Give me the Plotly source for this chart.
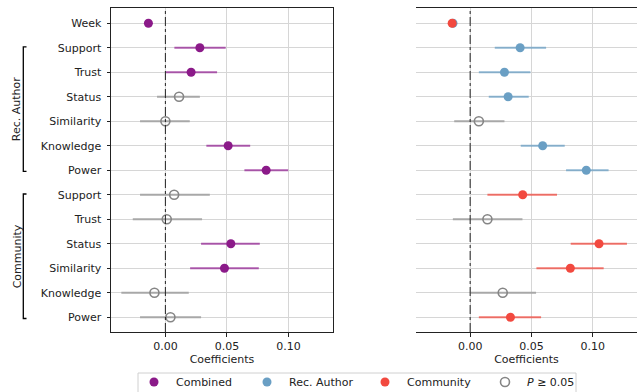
import plotly.graph_objects as go

# ---------------- data ----------------
rows = ["Week", "Support", "Trust", "Status", "Similarity", "Knowledge", "Power",
        "Support", "Trust", "Status", "Similarity", "Knowledge", "Power"]

combined_coef = [-0.0138, 0.0280, 0.0209, 0.0111, 0.0000, 0.0510, 0.0819,
                 0.0071, 0.0011, 0.0532, 0.0480, -0.0089, 0.0041]
combined_lo = [-0.0143, 0.0073, 0.0003, -0.0068, -0.0206, 0.0333, 0.0642,
               -0.0206, -0.0265, 0.0290, 0.0201, -0.0358, -0.0206]
combined_hi = [-0.0133, 0.0490, 0.0420, 0.0280, 0.0198, 0.0689, 0.0998,
               0.0361, 0.0298, 0.0767, 0.0759, 0.0190, 0.0290]
combined_sig = [True, True, True, False, False, True, True,
                False, False, True, True, False, False]

separate_coef = [-0.0147, 0.0408, 0.0280, 0.0310, 0.0071, 0.0592, 0.0948,
                 0.0429, 0.0141, 0.1052, 0.0818, 0.0266, 0.0329]
separate_lo = [-0.0152, 0.0201, 0.0071, 0.0152, -0.0130, 0.0413, 0.0783,
               0.0141, -0.0141, 0.0821, 0.0541, 0.0000, 0.0071]
separate_hi = [-0.0142, 0.0620, 0.0492, 0.0478, 0.0280, 0.0772, 0.1130,
               0.0709, 0.0427, 0.1280, 0.1090, 0.0538, 0.0579]
separate_sig = [True, True, True, True, False, True, True,
                True, False, True, True, False, True]
separate_group = ["Community", "Rec. Author", "Rec. Author", "Rec. Author", "Rec. Author",
                  "Rec. Author", "Rec. Author", "Community", "Community", "Community",
                  "Community", "Community", "Community"]
week_rec_author_coef = -0.0140

legend_names = ["Combined", "Rec. Author", "Community", "<i>P</i> ≥ 0.05"]
legend_keys = ["Combined", "Rec. Author", "Community", "ns"]
bracket_groups = [("Rec. Author", 1, 6), ("Community", 7, 12)]
x_ticks = [0.0, 0.05, 0.10]

# ---------------- style / layout ----------------
COL = {"Combined": "#8B1A89", "Rec. Author": "#6A9FC4", "Community": "#F2493F", "ns": "#858585"}
ERR = {"Combined": "rgba(150,40,150,0.75)", "Rec. Author": "rgba(106,159,196,0.75)",
       "Community": "rgba(240,74,63,0.75)", "ns": "#A8A8A8"}
FONT = "DejaVu Sans"
W, H = 642, 392
LEG_MARKER_PX = [154, 267, 385, 505]   # legend symbol centres (px)
LEG_TEXT_GAP = 20                       # symbol -> text (px)
LEG_Y = 382                             # legend row centre (px)
LEG_BOX = (138, 576, 373)               # left, right, top (px)

fig = go.Figure()


def marker_style(color, filled):
    if filled:
        return dict(size=9, color=color, symbol="circle", line=dict(width=0))
    return dict(size=9, color=color, symbol="circle-open", line=dict(width=1.6, color=color))


def add_points(xs, ys, lo, hi, color, err, filled, xa, ya="y"):
    if not xs:
        return
    fig.add_trace(go.Scatter(
        x=xs, y=ys, mode="markers", xaxis=xa, yaxis=ya, showlegend=False,
        error_x=dict(type="data", symmetric=False,
                     array=[h - x for h, x in zip(hi, xs)],
                     arrayminus=[x - l for l, x in zip(lo, xs)],
                     color=err, thickness=2, width=0),
        marker=marker_style(color, filled),
        hoverinfo="skip"))


def panel(coefs, los, his, sigs, groups, xa):
    for g in dict.fromkeys(groups):
        idx = [i for i in range(len(coefs)) if groups[i] == g and sigs[i]]
        add_points([coefs[i] for i in idx], idx, [los[i] for i in idx], [his[i] for i in idx],
                   COL[g], ERR[g], True, xa)
    idx = [i for i in range(len(coefs)) if not sigs[i]]
    add_points([coefs[i] for i in idx], idx, [los[i] for i in idx], [his[i] for i in idx],
               COL["ns"], ERR["ns"], False, xa)


# left panel: combined model
panel(combined_coef, combined_lo, combined_hi, combined_sig, ["Combined"] * len(rows), "x")
# right panel: separate model (blue week marker sits behind the red one)
add_points([week_rec_author_coef], [0], [week_rec_author_coef], [week_rec_author_coef],
           COL["Rec. Author"], ERR["Rec. Author"], True, "x2")
panel(separate_coef, separate_lo, separate_hi, separate_sig, separate_group, "x2")

# zero reference lines
for xr in ["x", "x2"]:
    fig.add_shape(type="line", xref=xr, yref="y domain", x0=0, x1=0, y0=0, y1=1,
                  line=dict(color="#222", width=1, dash="dashdot"), layer="above")

# group brackets
bx, bt = 23.3 / W, 3.2 / W
for label, r0, r1 in bracket_groups:
    y0, y1 = r0 - 0.03, r1 + 0.05
    fig.add_shape(type="path", xref="paper", yref="y",
                  path=f"M {bx+bt} {y0} L {bx} {y0} L {bx} {y1} L {bx+bt} {y1}",
                  line=dict(color="black", width=1.3))
    fig.add_annotation(x=17.3 / W, y=(r0 + r1) / 2, xref="paper", yref="y", text=label,
                       textangle=-90, showarrow=False, xanchor="center", yanchor="middle",
                       font=dict(family=FONT, size=11, color="#222"))

# legend (drawn below the panels, on a pixel-scaled overlay axis)
L, R, T = LEG_BOX
fig.add_shape(type="rect", xref="paper", yref="paper",
              x0=L / W, x1=R / W, y0=1 - (H + 10) / H, y1=1 - T / H,
              line=dict(color="#D0D0D0", width=1), fillcolor="white", layer="below")
for name, key, px in zip(legend_names, legend_keys, LEG_MARKER_PX):
    fig.add_trace(go.Scatter(x=[px], y=[LEG_Y], mode="markers", xaxis="x3", yaxis="y3",
                             showlegend=False, hoverinfo="skip",
                             marker=marker_style(COL[key], key != "ns")))
    fig.add_annotation(x=(px + LEG_TEXT_GAP) / W, y=1 - LEG_Y / H, xref="paper", yref="paper",
                       text=name, showarrow=False, xanchor="left", yanchor="middle",
                       font=dict(family=FONT, size=11, color="#222"))

axis_common = dict(
    range=[-0.0442, 0.1362], tickvals=x_ticks, tickformat=".2f", automargin=False,
    showline=True, mirror=True, linecolor="#222", linewidth=1,
    ticks="outside", ticklen=3.5, tickcolor="#222", tickwidth=1,
    showgrid=True, gridcolor="#D6D6D6", gridwidth=1, zeroline=False,
    tickfont=dict(family=FONT, size=11, color="#222"),
    title=dict(text="Coefficients", font=dict(family=FONT, size=11, color="#222"), standoff=2),
)
yaxis_common = dict(
    range=[12.6, -0.62], tickvals=list(range(len(rows))), ticktext=rows, automargin=False,
    showline=True, mirror=True, linecolor="#222", linewidth=1,
    ticks="outside", ticklen=3.5, tickcolor="#222", tickwidth=1,
    showgrid=True, gridcolor="#D6D6D6", gridwidth=1, zeroline=False,
    tickfont=dict(family=FONT, size=11, color="#222"),
)

ydom = [1 - 332 / H, 1 - 8 / H]
fig.update_layout(
    width=W, height=H, margin=dict(l=0, r=0, t=0, b=0, autoexpand=False),
    paper_bgcolor="white", plot_bgcolor="rgba(0,0,0,0)",
    font=dict(family=FONT, size=11, color="#222"),
    xaxis=dict(domain=[111 / W, 333 / W], anchor="y", **axis_common),
    xaxis2=dict(domain=[416 / W, 637 / W], anchor="y2", **axis_common),
    yaxis=dict(domain=ydom, anchor="x", ticklabelstandoff=3, **yaxis_common),
    yaxis2=dict(domain=ydom, anchor="x2", showticklabels=False, matches="y", **yaxis_common),
    xaxis3=dict(domain=[0, 1], range=[0, W], visible=False, anchor="y3", fixedrange=True),
    yaxis3=dict(domain=[0, 1], range=[H, 0], visible=False, anchor="x3", fixedrange=True),
    showlegend=False,
)

fig.write_html("out.html")
